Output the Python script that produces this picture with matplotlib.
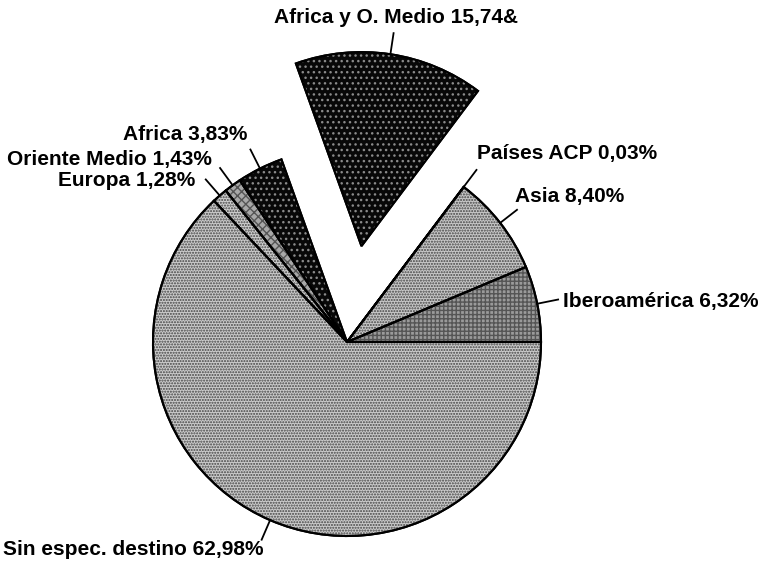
import numpy as np
import matplotlib
matplotlib.use('Agg')
import matplotlib.pyplot as plt
from matplotlib.patches import Wedge

# datos del grafico (porcentajes por destino)
labels = ['Iberoamérica 6,32%', 'Asia 8,40%', 'Países ACP 0,03%',
          'Africa y O. Medio 15,74&', 'Africa 3,83%', 'Oriente Medio 1,43%',
          'Europa 1,28%', 'Sin espec. destino 62,98%']
values = [6.32, 8.40, 0.03, 15.74, 3.83, 1.43, 1.28, 62.98]
explode = [0, 0, 0, 0.5, 0, 0, 0, 0]
colors = ['#9a9a9a', '#c8c8c8', '#c8c8c8', '#080808',
          '#080808', '#a8a8a8', '#cfcfcf', '#cbcbcb']
# textura (trama) encima de cada sector: (patron, color)
textures = [('++++', '#555555'), ('......', '#444444'), (None, None),
            ('...', '#8a8a8a'), ('...', '#8a8a8a'), ('xxxx', '#555555'),
            ('......', '#444444'), ('......', '#444444')]

# posicion de cada etiqueta (x, y de la linea base, alineacion)
label_pos = [(1.113, 0.180, 'left'), (0.866, 0.722, 'left'),
             (0.670, 0.943, 'left'), (0.255, 1.644, 'center'),
             (-0.515, 1.041, 'right'), (-0.696, 0.912, 'right'),
             (-0.784, 0.804, 'right'), (-1.773, -1.098, 'left')]

fig = plt.figure(figsize=(7.65, 5.72), dpi=100)
ax = fig.add_axes([0, 0, 1, 1])

wedges, _ = ax.pie(values, startangle=0, counterclock=True, explode=explode,
                   colors=colors, radius=1.0,
                   wedgeprops=dict(edgecolor='black', linewidth=1.5))

for w, (hatch, hc) in zip(wedges, textures):
    if hatch is None:
        continue
    t = Wedge(w.center, w.r, w.theta1, w.theta2, fill=False, hatch=hatch,
              edgecolor=hc, linewidth=0, zorder=w.get_zorder() + 0.1)
    ax.add_patch(t)
    # borde negro otra vez encima de la trama
    ax.add_patch(Wedge(w.center, w.r, w.theta1, w.theta2, fill=False,
                       edgecolor='black', linewidth=1.5,
                       zorder=w.get_zorder() + 0.2))

for w, lab, (tx, ty, ha) in zip(wedges, labels, label_pos):
    mid = np.deg2rad((w.theta1 + w.theta2) / 2)
    cx, cy = w.center
    x0, y0 = cx + w.r * np.cos(mid), cy + w.r * np.sin(mid)
    x1, y1 = cx + 1.11 * w.r * np.cos(mid), cy + 1.11 * w.r * np.sin(mid)
    ax.plot([x0, x1], [y0, y1], color='black', lw=1.3)
    ax.text(tx, ty, lab, ha=ha, va='baseline', fontsize=15,
            fontweight='bold', family='Liberation Sans')

ax.set_xlim(-347 / 194, (765 - 347) / 194)
ax.set_ylim((342 - 572) / 194, 342 / 194)
ax.set_aspect('auto')
ax.axis('off')

fig.savefig('out.png', dpi=100)
